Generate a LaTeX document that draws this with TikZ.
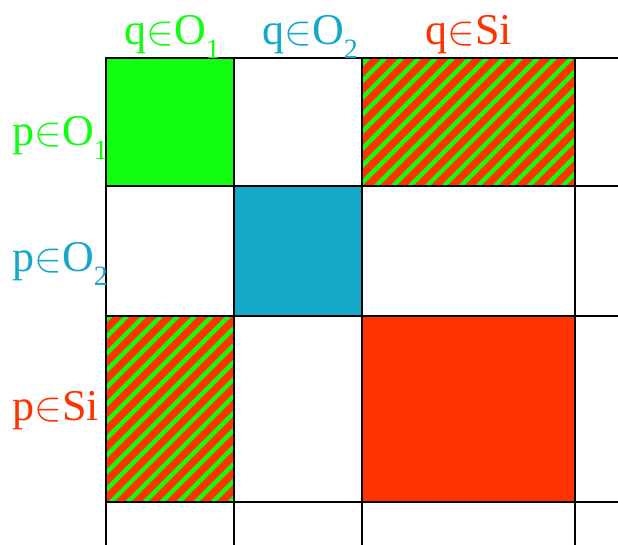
\documentclass[tikz,border=0pt]{standalone}
\usepackage{fontspec}
\setmainfont{Liberation Serif}
\usetikzlibrary{patterns.meta}

\definecolor{oxgreen}{RGB}{16,255,16}
\definecolor{oxblue}{RGB}{22,168,200}
\definecolor{sired}{RGB}{255,51,0}
\newcommand{\lowidx}[1]{\raisebox{-0.3em}{\fontsize{14}{16}\selectfont #1}}

\begin{document}
\begin{tikzpicture}[x=0.5pt, y=-0.5pt,
    grid line/.style={line width=1pt},
    cell/.style={draw, line width=1.4pt},
    mixed/.style={cell, preaction={fill=sired},
      pattern={Lines[angle=45, distance=6pt, line width=2.2pt]}, pattern color=oxgreen},
    lbl/.style={font=\fontsize{22}{26}\selectfont, inner sep=0pt, anchor=base west}]
  \useasboundingbox (0,0) rectangle (618,545);

  % grid
  \foreach \gx in {106,234,362,575}
    \draw[grid line] (\gx,58) -- (\gx,545);
  \foreach \gy in {58,186,316,502}
    \draw[grid line] (106,\gy) -- (618,\gy);

  % blocks
  \draw[cell, fill=oxgreen] (106,58) rectangle (234,186);
  \draw[cell, fill=oxblue] (234,186) rectangle (362,316);
  \draw[cell, fill=sired] (362,316) rectangle (575,502);
  \draw[mixed] (362,58) rectangle (575,186);
  \draw[mixed] (106,316) rectangle (234,502);

  % labels
  \node[lbl, text=oxgreen] (q1) at (124,45) {q$\in$O\lowidx{1}};
  \node[lbl, text=oxblue] (q2) at (262,45) {q$\in$O\lowidx{2}};
  \node[lbl, text=sired] (qsi) at (425,45) {q$\in$Si};
  \node[lbl, text=oxgreen] (p1) at (12,146) {p$\in$O\lowidx{1}};
  \node[lbl, text=oxblue] (p2) at (12,272) {p$\in$O\lowidx{2}};
  \node[lbl, text=sired] (psi) at (12,421) {p$\in$Si};
\end{tikzpicture}
\end{document}
